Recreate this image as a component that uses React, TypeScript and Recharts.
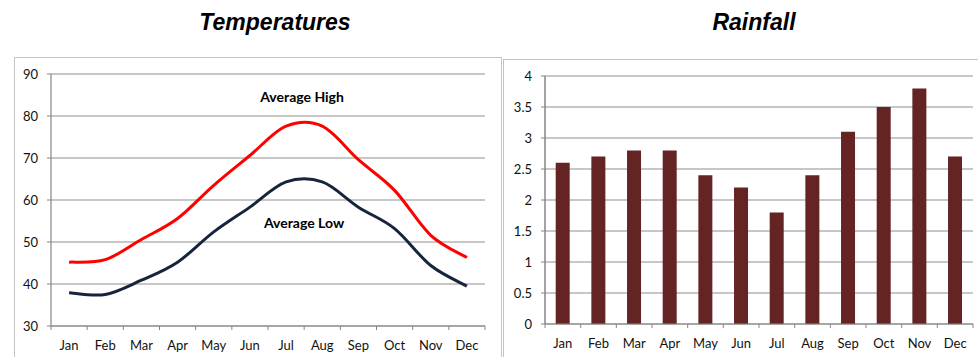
import React from 'react';
import {
  LineChart, Line, BarChart, Bar, XAxis, YAxis, CartesianGrid, ReferenceDot,
} from 'recharts';

const months = ['Jan', 'Feb', 'Mar', 'Apr', 'May', 'Jun', 'Jul', 'Aug', 'Sep', 'Oct', 'Nov', 'Dec'];
const avgHigh = [45.2, 45.8, 50.6, 55.6, 63.5, 70.6, 77.6, 77.6, 69.6, 62.3, 51.6, 46.3];
const avgLow = [37.9, 37.5, 40.9, 45.2, 52.4, 58.3, 64.3, 64.3, 58.3, 53.2, 44.4, 39.5];
const rainfall = [2.6, 2.7, 2.8, 2.8, 2.4, 2.2, 1.8, 2.4, 3.1, 3.5, 3.8, 2.7];
const tempTicks = [30, 40, 50, 60, 70, 80, 90];
const rainTicks = [0, 0.5, 1, 1.5, 2, 2.5, 3, 3.5, 4];

const tempData = months.map((m, i) => ({ month: m, high: avgHigh[i], low: avgLow[i] }));
const rainData = months.map((m, i) => ({ month: m, rain: rainfall[i] }));

const FONT = 'Lato, "Liberation Sans", Arial, sans-serif';
const AXIS = '#868686';
const GRID = '#8f8f8f';
const TICK_SIZE = 4;
const TICK_MARGIN = 11;

// Excel-like smoothed line (Catmull-Rom through the points)
function excelSmooth(context: any) {
  let pts: number[][] = [];
  return {
    areaStart() {},
    areaEnd() {},
    lineStart() { pts = []; },
    point(x: number, y: number) { pts.push([+x, +y]); },
    lineEnd() {
      const n = pts.length;
      if (!n) return;
      context.moveTo(pts[0][0], pts[0][1]);
      for (let i = 0; i < n - 1; i++) {
        const p0 = pts[Math.max(i - 1, 0)];
        const p1 = pts[i];
        const p2 = pts[i + 1];
        const p3 = pts[Math.min(i + 2, n - 1)];
        context.bezierCurveTo(
          p1[0] + (p2[0] - p0[0]) / 6, p1[1] + (p2[1] - p0[1]) / 6,
          p2[0] - (p3[0] - p1[0]) / 6, p2[1] - (p3[1] - p1[1]) / 6,
          p2[0], p2[1],
        );
      }
    },
  };
}

const BandTick = (props: any) => {
  const { x, y, payload, index, visibleTicksCount } = props;
  const half = payload && payload.offset != null ? payload.offset : 0;
  const y1 = y - TICK_SIZE - TICK_MARGIN;
  const y2 = y - TICK_MARGIN;
  const last = index === (visibleTicksCount ?? 12) - 1;
  return (
    <g>
      <line x1={x - half} x2={x - half} y1={y1} y2={y2} stroke={AXIS} strokeWidth={1} />
      {last && <line x1={x + half} x2={x + half} y1={y1} y2={y2} stroke={AXIS} strokeWidth={1} />}
      <text x={x} y={y} dy="0.71em" textAnchor="middle" fill="#111" fontSize={13} fontFamily={FONT}>
        {payload.value}
      </text>
    </g>
  );
};

const titleStyle: React.CSSProperties = {
  position: 'absolute',
  top: 8,
  fontFamily: '"Liberation Sans", Arial, sans-serif',
  fontWeight: 'bold',
  fontStyle: 'italic',
  fontSize: 23,
  color: '#000',
  textAlign: 'center',
  width: 300,
  lineHeight: '28px',
};

const panelStyle: React.CSSProperties = {
  position: 'absolute',
  border: '1.5px solid #c4c4c4',
  boxSizing: 'border-box',
  background: '#fff',
};

export default function App() {
  return (
    <div style={{ position: 'absolute', left: 0, top: 0, width: 978, height: 357, background: '#fff', overflow: 'hidden' }}>
      <div style={{ ...titleStyle, left: 125 }}>Temperatures</div>
      <div style={{ ...titleStyle, left: 604 }}>Rainfall</div>

      <div style={{ ...panelStyle, left: 14, top: 57, width: 488, height: 320 }} />
      <div style={{ ...panelStyle, left: 503, top: 59, width: 490, height: 320 }} />

      <div style={{ position: 'absolute', left: 14, top: 57 }}>
        <LineChart width={487} height={300} data={tempData} margin={{ top: 17, right: 16, bottom: 0, left: 7 }}>
          <CartesianGrid vertical={false} stroke={GRID} strokeWidth={1} />
          <XAxis
            dataKey="month"
            scale="band"
            height={31}
            axisLine={{ stroke: AXIS, strokeWidth: 1.2 }}
            tickLine={false}
            tickSize={TICK_SIZE}
            tickMargin={TICK_MARGIN}
            tick={<BandTick />}
            interval={0}
          />
          <YAxis
            width={30}
            domain={[30, 90]}
            ticks={tempTicks}
            interval={0}
            axisLine={{ stroke: AXIS, strokeWidth: 1.2 }}
            tickLine={{ stroke: AXIS }}
            tickSize={4}
            tickMargin={9}
            tick={{ fill: '#111', fontSize: 13, fontFamily: FONT }}
          />
          <Line dataKey="high" type={excelSmooth as any} stroke="#ff0000" strokeWidth={3} dot={false} isAnimationActive={false} />
          <Line dataKey="low" type={excelSmooth as any} stroke="#17243d" strokeWidth={3} dot={false} isAnimationActive={false} />
          <ReferenceDot
            x="Jul" y={84.6} r={1} fill="none" stroke="none"
            label={{ value: 'Average High', position: 'center', dx: 16, fontSize: 14, fontWeight: 'bold', fontFamily: FONT, fill: '#000' }}
          />
          <ReferenceDot
            x="Jul" y={54.5} r={1} fill="none" stroke="none"
            label={{ value: 'Average Low', position: 'center', dx: 18, fontSize: 14, fontWeight: 'bold', fontFamily: FONT, fill: '#000' }}
          />
        </LineChart>
      </div>

      <div style={{ position: 'absolute', left: 504, top: 59 }}>
        <BarChart width={474} height={298} data={rainData} margin={{ top: 17, right: 5, bottom: 0, left: 11 }} barCategoryGap="30%">
          <CartesianGrid vertical={false} stroke={GRID} strokeWidth={1} />
          <XAxis
            dataKey="month"
            height={33}
            axisLine={{ stroke: AXIS, strokeWidth: 1.2 }}
            tickLine={false}
            tickSize={TICK_SIZE}
            tickMargin={TICK_MARGIN}
            tick={<BandTick />}
            interval={0}
          />
          <YAxis
            width={30}
            domain={[0, 4]}
            ticks={rainTicks}
            interval={0}
            axisLine={{ stroke: AXIS, strokeWidth: 1.5 }}
            tickLine={{ stroke: AXIS }}
            tickSize={4}
            tickMargin={9}
            tick={{ fill: '#111', fontSize: 13, fontFamily: FONT }}
          />
          <Bar dataKey="rain" fill="#632423" isAnimationActive={false} />
        </BarChart>
      </div>
    </div>
  );
}
